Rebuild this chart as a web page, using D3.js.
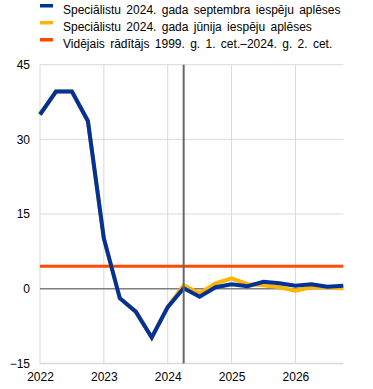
<!DOCTYPE html>
<html>
<head>
<meta charset="utf-8">
<script src="https://cdn.jsdelivr.net/npm/d3@7"></script>
<style>
  body { margin: 0; background: #fff; }
  text { font-family: "Liberation Sans", Arial, sans-serif; fill: #000; }
</style>
</head>
<body>
<div id="chart"></div>
<script>
// quarters 2022 Q1 .. 2026 Q4
var quarters = d3.range(20);
var yearTicks = [0, 4, 8, 12, 16];
var yearLabels = ["2022", "2023", "2024", "2025", "2026"];
var yTicks = [-15, 0, 15, 30, 45];

var septValues = [35, 39.6, 39.6, 33.7, 10.1, -1.9, -4.6, -9.8, -3.7, 0.1,
                  -1.6, 0.3, 0.9, 0.5, 1.4, 1.1, 0.6, 0.9, 0.4, 0.6];
var juneValues = [35, 39.6, 39.6, 33.7, 10.1, -1.9, -4.6, -9.8, -3.7, 0.7,
                  -0.9, 1.1, 2.1, 0.9, 0.7, 0.3, -0.4, 0.3, 0.3, 0.1];
var averageValue = 4.5;
var lastActual = 9;

var seriesNames = [
  "Speciālistu 2024. gada septembra iespēju aplēses",
  "Speciālistu 2024. gada jūnija iespēju aplēses",
  "Vidējais rādītājs 1999. g. 1. cet.–2024. g. 2. cet."
];
var colors = ["#003299", "#ffb400", "#ff4b00"];

var svgWidth = 373, svgHeight = 389;
var svg = d3.select("#chart").append("svg")
  .attr("width", svgWidth)
  .attr("height", svgHeight);

var x = d3.scaleLinear().domain([0, 19]).range([40, 343.3]);
var y = d3.scaleLinear().domain([-15, 45]).range([363.4, 64.7]);

// grid
svg.append("g").selectAll("line").data([15, 30, 45]).enter().append("line")
  .attr("x1", x(0)).attr("x2", x(19))
  .attr("y1", d => y(d)).attr("y2", d => y(d))
  .attr("stroke", "#d9d9d9").attr("stroke-width", 1);
svg.append("g").selectAll("line").data(yearTicks).enter().append("line")
  .attr("x1", d => x(d)).attr("x2", d => x(d))
  .attr("y1", y(45)).attr("y2", y(-15))
  .attr("stroke", "#d9d9d9").attr("stroke-width", 1);
svg.append("line")
  .attr("x1", x(0)).attr("x2", x(19))
  .attr("y1", y(-15)).attr("y2", y(-15))
  .attr("stroke", "#d9d9d9").attr("stroke-width", 1.5);

// zero line
svg.append("line")
  .attr("x1", x(0)).attr("x2", x(19))
  .attr("y1", y(0)).attr("y2", y(0))
  .attr("stroke", "#7f7f7f").attr("stroke-width", 1.3);

// axis labels
var yAxis = d3.axisLeft(y).tickValues(yTicks).tickSize(0).tickPadding(10);
svg.append("g").attr("transform", `translate(${x(0)},0)`).call(yAxis)
  .call(g => g.select(".domain").remove())
  .selectAll("text").attr("font-size", 12).style("font-family", "Liberation Sans, Arial, sans-serif");

var xAxis = d3.axisBottom(x).tickValues(yearTicks)
  .tickFormat((d, i) => yearLabels[i]).tickSize(0).tickPadding(9);
svg.append("g").attr("transform", `translate(0,${y(-15)})`).call(xAxis)
  .call(g => g.select(".domain").remove())
  .selectAll("text").attr("font-size", 12).style("font-family", "Liberation Sans, Arial, sans-serif");

// average line
svg.append("line")
  .attr("x1", x(0)).attr("x2", x(19))
  .attr("y1", y(averageValue)).attr("y2", y(averageValue))
  .attr("stroke", colors[2]).attr("stroke-width", 3);

// lines
var line = d3.line().x((d, i) => x(quarters[i])).y(d => y(d));
svg.append("path").datum(juneValues)
  .attr("d", line).attr("fill", "none")
  .attr("stroke", colors[1]).attr("stroke-width", 4);
svg.append("path").datum(septValues)
  .attr("d", line).attr("fill", "none")
  .attr("stroke", colors[0]).attr("stroke-width", 4);

// vertical marker
svg.append("line")
  .attr("x1", x(lastActual)).attr("x2", x(lastActual))
  .attr("y1", y(45)).attr("y2", y(-15))
  .attr("stroke", "#666").attr("stroke-width", 2);

// legend
var legend = svg.append("g").selectAll("g").data(seriesNames).enter().append("g")
  .attr("transform", (d, i) => `translate(40,${4 + i * 17})`);
legend.append("rect")
  .attr("width", 13).attr("height", 3.5)
  .attr("fill", (d, i) => colors[i]);
legend.append("text")
  .attr("x", 23).attr("y", 10)
  .attr("font-size", 12)
  .style("word-spacing", "2px")
  .text(d => d);
</script>
</body>
</html>
